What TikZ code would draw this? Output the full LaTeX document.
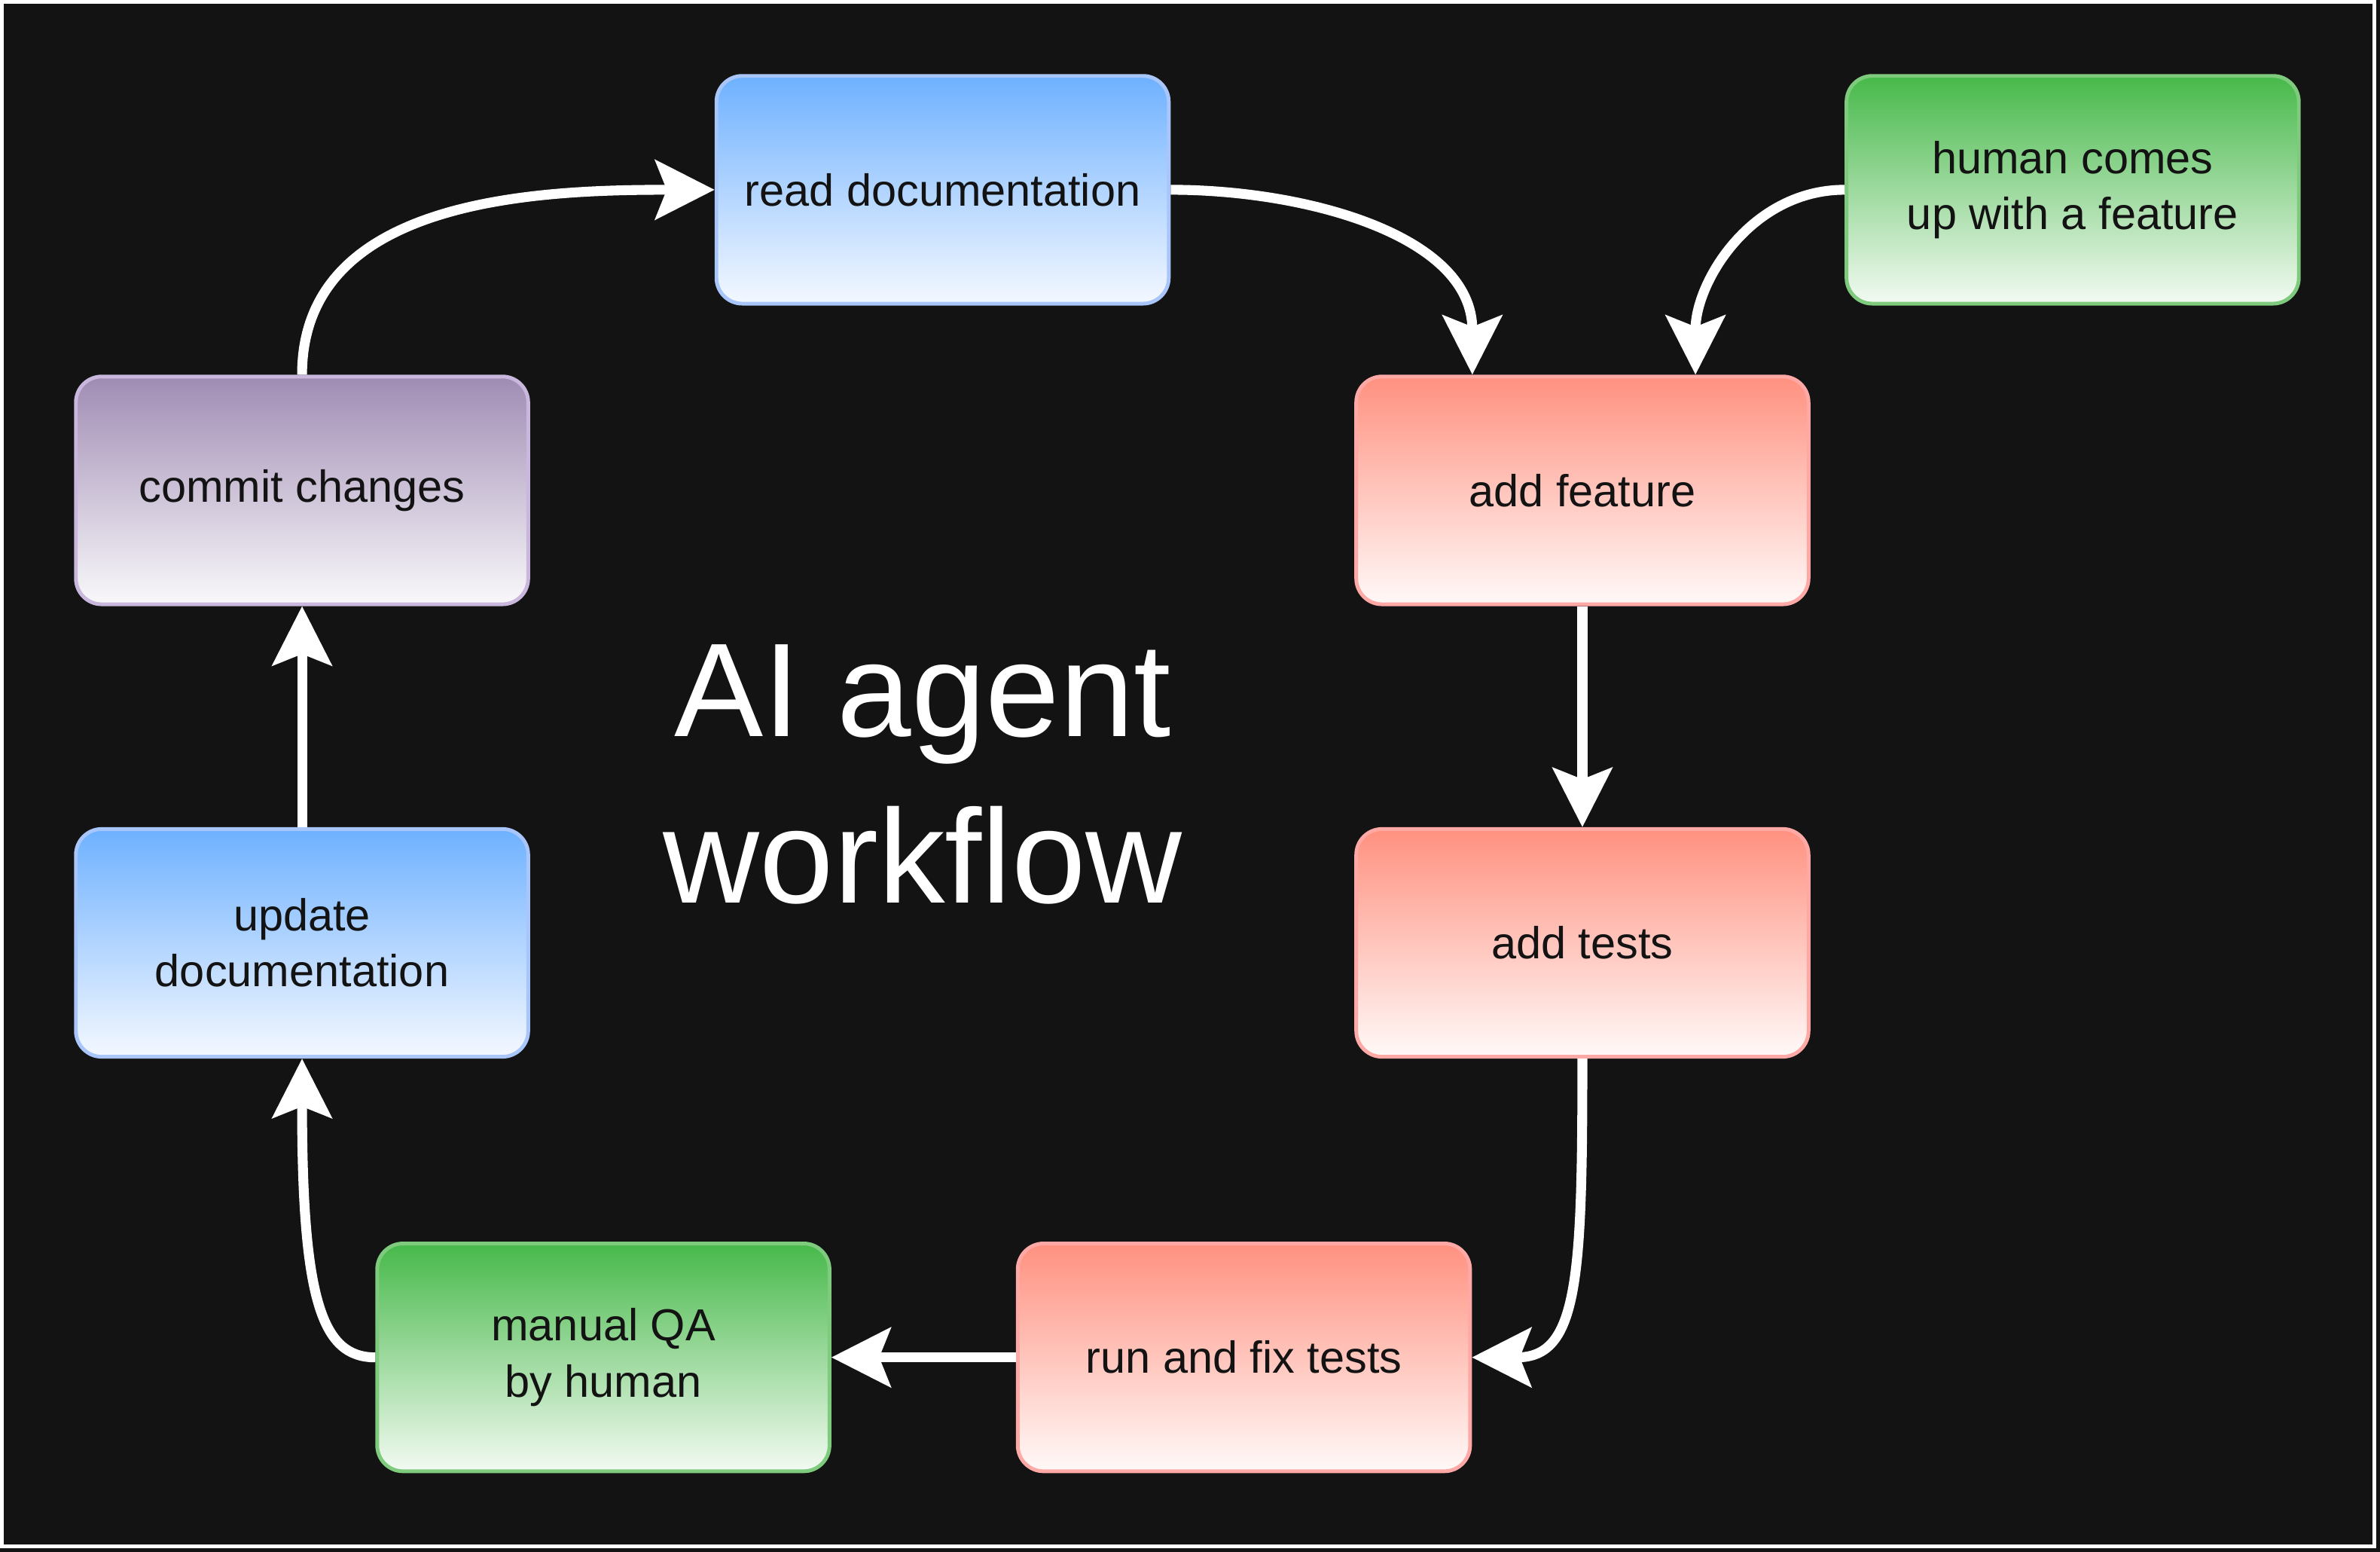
\documentclass[tikz,border=0pt]{standalone}
\usepackage{fontspec}
\setmainfont{Liberation Sans}
\usetikzlibrary{arrows.meta}
\definecolor{bg}{HTML}{131313}
\definecolor{ink}{HTML}{131313}
\definecolor{blueTop}{HTML}{6EB1FF}
\definecolor{blueBot}{HTML}{F4F8FF}
\definecolor{blueLine}{HTML}{A9C6FA}
\definecolor{redTop}{HTML}{FF9180}
\definecolor{redBot}{HTML}{FFF9F8}
\definecolor{redLine}{HTML}{FFA9A6}
\definecolor{greenTop}{HTML}{47B94A}
\definecolor{greenBot}{HTML}{F3FAF2}
\definecolor{greenLine}{HTML}{7FCB7E}
\definecolor{purpleTop}{HTML}{A08CB4}
\definecolor{purpleBot}{HTML}{F9F8FA}
\definecolor{purpleLine}{HTML}{C9B7DD}

\begin{document}
\begin{tikzpicture}[>={Stealth[length=3.9mm,width=3.9mm,inset=0.75mm]},
  taskbox/.style={rounded corners=1.7mm,line width=0.7pt,minimum width=2.98cm,
    minimum height=1.5cm,align=center,text=ink,font=\fontsize{8.4}{10.5}\selectfont},
  bluebox/.style={taskbox,draw=blueLine,top color=blueTop,bottom color=blueBot},
  redbox/.style={taskbox,draw=redLine,top color=redTop,bottom color=redBot},
  greenbox/.style={taskbox,draw=greenLine,top color=greenTop,bottom color=greenBot},
  purplebox/.style={taskbox,draw=purpleLine,top color=purpleTop,bottom color=purpleBot},
  flow/.style={->,white,line width=1.85pt}]
  % background and frame
  \fill[bg] (0,0) rectangle (15.68,10.22);
  \draw[white,line width=0.025cm] (0.0125,0.036) rectangle (15.643,10.2075);
  \useasboundingbox (0,0) rectangle (15.68,10.22);
  % steps
  \node[bluebox] (read) at (6.21,8.97) {read documentation};
  \node[greenbox] (human) at (13.655,8.97) {human comes\\up with a feature};
  \node[redbox] (feature) at (10.425,6.99) {add feature};
  \node[purplebox] (commit) at (1.99,6.99) {commit changes};
  \node[redbox] (tests) at (10.425,4.01) {add tests};
  \node[bluebox] (update) at (1.99,4.01) {update\\documentation};
  \node[greenbox] (qa) at (3.975,1.28) {manual QA\\by human};
  \node[redbox] (runtests) at (8.195,1.28) {run and fix tests};
  % title
  \node[white,align=center,inner sep=0,font=\fontsize{25}{31.25}\selectfont]
    (title) at (6.08,5.12) {AI agent\\workflow};
  % loop
  \draw[flow] (read.east) to[out=0,in=90] ([xshift=-7.25mm]feature.north);
  \draw[flow] (human.west) to[out=180,in=90] ([xshift=7.45mm]feature.north);
  \draw[flow] (feature) -- (tests);
  \draw[flow] (tests.south) .. controls +(0,-1.45) and +(0.7,0) .. (runtests.east);
  \draw[flow] (runtests) -- (qa);
  \draw[flow] (qa.west) .. controls +(-0.35,0) and +(0,-1.6) .. (update.south);
  \draw[flow] (update) -- (commit);
  \draw[flow] (commit.north) to[out=90,in=180] (read.west);
\end{tikzpicture}
\end{document}
